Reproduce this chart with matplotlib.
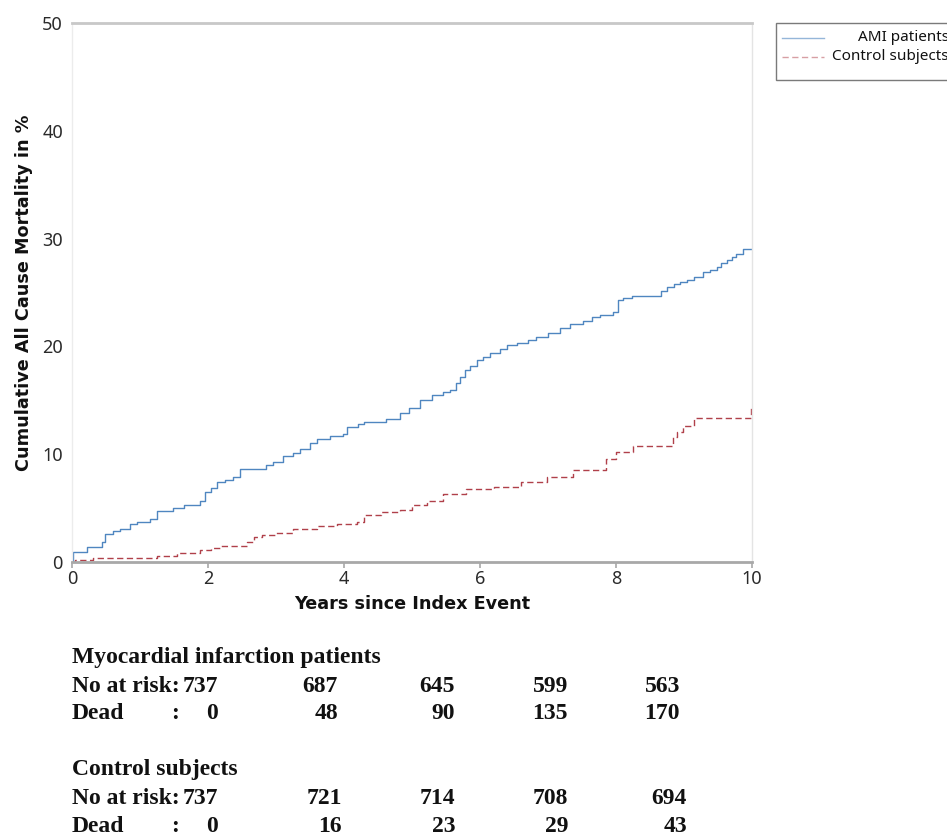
import matplotlib
matplotlib.use("Agg")
import matplotlib.pyplot as plt
from matplotlib.lines import Line2D
from matplotlib.patches import Rectangle

# Kaplan-Meier style cumulative mortality (%) (step-post)
ami_years = [0, 0.02, 0.22, 0.44, 0.49, 0.6, 0.71, 0.85, 0.95, 1.15, 1.25, 1.49, 1.65,
             1.88, 1.96, 2.05, 2.13, 2.25, 2.37, 2.47, 2.85, 2.96, 3.11, 3.25, 3.35, 3.5,
             3.6, 3.8, 3.99, 4.04, 4.2, 4.3, 4.62, 4.82, 4.95, 5.12, 5.3, 5.45, 5.56, 5.65,
             5.71, 5.78, 5.85, 5.95, 6.05, 6.15, 6.29, 6.4, 6.54, 6.7, 6.83, 7.0, 7.18,
             7.32, 7.52, 7.65, 7.76, 7.96, 8.03, 8.1, 8.23, 8.66, 8.75, 8.85, 8.94, 9.05,
             9.14, 9.28, 9.38, 9.48, 9.55, 9.63, 9.7, 9.77, 9.87, 10.0]
ami_mort = [0, 0.9, 1.4, 1.9, 2.6, 2.9, 3.1, 3.5, 3.7, 4.0, 4.7, 5.0, 5.3,
            5.7, 6.5, 6.9, 7.4, 7.6, 7.9, 8.6, 9.0, 9.3, 9.8, 10.1, 10.5, 11.0,
            11.4, 11.7, 11.9, 12.5, 12.8, 13.0, 13.3, 13.8, 14.3, 15.0, 15.5, 15.8, 16.0, 16.6,
            17.2, 17.8, 18.2, 18.7, 19.0, 19.4, 19.8, 20.1, 20.3, 20.6, 20.9, 21.2, 21.7,
            22.1, 22.4, 22.7, 22.9, 23.2, 24.3, 24.5, 24.7, 25.1, 25.5, 25.8, 26.0, 26.2,
            26.4, 26.9, 27.1, 27.4, 27.7, 28.0, 28.3, 28.6, 29.0, 29.0]

ctrl_years = [0, 0.05, 0.31, 1.25, 1.54, 1.88, 2.05, 2.18, 2.57, 2.67, 2.8, 3.0, 3.25,
              3.6, 3.9, 4.19, 4.3, 4.55, 4.82, 5.0, 5.22, 5.46, 5.8, 6.2, 6.6, 6.98, 7.37,
              7.86, 8.0, 8.25, 8.84, 8.9, 8.99, 9.14, 9.98, 10.0]
ctrl_mort = [0, 0.15, 0.4, 0.6, 0.8, 1.1, 1.3, 1.5, 1.9, 2.3, 2.5, 2.7, 3.1,
             3.3, 3.5, 3.7, 4.4, 4.6, 4.8, 5.3, 5.7, 6.3, 6.8, 7.0, 7.4, 7.9, 8.5,
             9.6, 10.2, 10.8, 11.6, 12.1, 12.6, 13.4, 14.4, 14.4]

# numbers at risk / dead, one column per time point
mi_at_risk = [737, 687, 645, 599, 563]
mi_dead = [0, 48, 90, 135, 170]
ctrl_at_risk = [737, 721, 714, 708, 694]
ctrl_dead = [0, 16, 23, 29, 43]

W, H = 947, 836
fig = plt.figure(figsize=(W / 100, H / 100), dpi=100)
ax = fig.add_axes([72 / W, 1 - 562 / H, 680 / W, 539 / H])

AMI_COL = "#4f86c0"
CTRL_COL = "#b0404a"

ax.step(ami_years, ami_mort, where="post", color=AMI_COL, lw=1.0)
ax.step(ctrl_years, ctrl_mort, where="post", color=CTRL_COL, lw=1.0,
        linestyle=(0, (4.5, 2.5)))

ax.set_xlim(0, 10)
ax.set_ylim(0, 50)
ax.set_xticks([0, 2, 4, 6, 8, 10])
ax.set_yticks([0, 10, 20, 30, 40, 50])

for side, col, lw in [("top", "#c8c8c8", 2.0), ("bottom", "#a8a8a8", 2.0),
                      ("left", "#ececec", 1.0), ("right", "#e4e4e4", 1.0)]:
    ax.spines[side].set_color(col)
    ax.spines[side].set_linewidth(lw)

ax.tick_params(axis="x", length=4, width=1.2, color="#a8a8a8", pad=1.5,
               labelcolor="#2a2a2a")
ax.tick_params(axis="y", length=0, pad=6.5, labelcolor="#2a2a2a")
for lab in ax.get_xticklabels() + ax.get_yticklabels():
    lab.set_fontfamily(["Noto Sans", "DejaVu Sans"])
    lab.set_fontsize(13)

label_font = dict(family="DejaVu Sans", size=12.7, weight="bold", color="#111111")
ax.set_xlabel("Years since Index Event", **label_font)
ax.set_ylabel("Cumulative All Cause Mortality in %", **label_font)
ax.xaxis.set_label_coords(0.5, -(595 - 562) / 539)
ax.yaxis.set_label_coords((33 - 72) / 680, 0.5)

# legend box (partly cut by the right edge, as in the original)
def fx(px):
    return px / W

def fy(py):
    return 1 - py / H

fig.add_artist(Rectangle((fx(776), fy(80)), fx(960) - fx(776), fy(22.7) - fy(80),
                         transform=fig.transFigure, facecolor="white",
                         edgecolor="#7a7a7a", lw=1.0, clip_on=False))
fig.add_artist(Line2D([fx(782), fx(824)], [fy(37.7), fy(37.7)], color=AMI_COL,
                      lw=1.0, alpha=0.6))
fig.add_artist(Line2D([fx(782), fx(824)], [fy(56.7), fy(56.7)], color=CTRL_COL,
                      lw=1.0, alpha=0.5, linestyle=(0, (4.5, 2.5))))
leg_font = dict(family=["Noto Sans", "DejaVu Sans"], size=11, color="#111111")
t_ctrl = fig.text(fx(832), fy(56.7), "Control subjects", ha="left", va="center", **leg_font)
fig.canvas.draw()
right_px = t_ctrl.get_window_extent().x1
fig.text(right_px / W, fy(37.7), "AMI patients", ha="right", va="center", **leg_font)

# numbers-at-risk table under the plot
tab_font = dict(family=["Liberation Serif", "DejaVu Serif"], size=17, weight="bold",
                color="#111111")
label_x = 72
colon_x = 175
mi_cols = [218, 338, 455, 568, 680]
ctrl_cols = [218, 342, 455, 568, 687]

def table_block(title, at_risk, dead, cols, y0):
    fig.text(fx(label_x), fy(y0), title, ha="left", va="baseline", **tab_font)
    fig.text(fx(label_x), fy(y0 + 28.5), "No at risk:", ha="left", va="baseline", **tab_font)
    fig.text(fx(label_x), fy(y0 + 56), "Dead", ha="left", va="baseline", **tab_font)
    fig.text(fx(colon_x), fy(y0 + 56), ":", ha="center", va="baseline", **tab_font)
    for c, n, d in zip(cols, at_risk, dead):
        fig.text(fx(c), fy(y0 + 28.5), str(n), ha="right", va="baseline", **tab_font)
        fig.text(fx(c), fy(y0 + 56), str(d), ha="right", va="baseline", **tab_font)

table_block("Myocardial infarction patients", mi_at_risk, mi_dead, mi_cols, 663)
table_block("Control subjects", ctrl_at_risk, ctrl_dead, ctrl_cols, 775.5)

fig.savefig("out.png", dpi=100)
